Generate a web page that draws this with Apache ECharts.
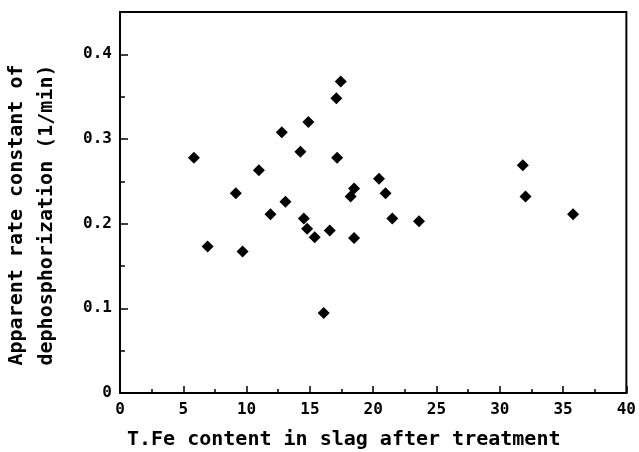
<!DOCTYPE html>
<html>
<head>
<meta charset="utf-8">
<script src="https://cdn.jsdelivr.net/npm/echarts@6/dist/echarts.min.js"></script>
<style>html,body{margin:0;padding:0;background:#fff}#c{width:639px;height:452px}</style>
</head>
<body>
<div id="c"></div>
<script>
var tfe = [5.84, 6.92, 9.15, 9.68, 10.97, 11.89, 12.78, 13.07, 14.25, 14.52, 14.78, 14.88, 15.38, 16.09, 16.57, 17.09, 17.15, 17.44, 18.22, 18.49, 18.49, 20.46, 20.98, 21.51, 23.62, 31.82, 32.03, 35.79];
var rate = [0.278, 0.173, 0.236, 0.167, 0.263, 0.211, 0.308, 0.226, 0.285, 0.206, 0.194, 0.320, 0.184, 0.0945, 0.192, 0.348, 0.278, 0.368, 0.232, 0.2415, 0.183, 0.253, 0.236, 0.206, 0.203, 0.269, 0.232, 0.211];
var xTitle = 'T.Fe content in slag after treatment';
var yTitle1 = 'Apparent rate constant of';
var yTitle2 = 'dephosphorization (1/min)';

var pts = tfe.map(function (v, i) { return [v, rate[i]]; });
var FONT = '"DejaVu Sans Mono", "Liberation Mono", monospace';
var chart = echarts.init(document.getElementById('c'), null, {renderer: 'canvas'});
chart.setOption({
  animation: false,
  backgroundColor: '#fff',
  grid: {left: 120, top: 12, right: 11, bottom: 59, show: true, borderColor: '#000', borderWidth: 2, backgroundColor: 'transparent'},
  xAxis: {
    type: 'value', min: 0, max: 40, interval: 5,
    axisLine: {show: true, onZero: false, lineStyle: {color: '#000', width: 2}},
    axisTick: {show: true, inside: true, length: 7, lineStyle: {color: '#000', width: 1.5}},
    minorTick: {show: true, splitNumber: 2, length: 4, lineStyle: {color: '#000', width: 1.5}},
    splitLine: {show: false},
    axisLabel: {color: '#000', fontFamily: FONT, fontWeight: 'bold', fontSize: 16, margin: 9}
  },
  yAxis: [{
    type: 'value', min: 0, max: 0.45, interval: 0.1,
    axisLine: {show: true, onZero: false, lineStyle: {color: '#000', width: 2}},
    axisTick: {show: true, inside: true, length: 8, lineStyle: {color: '#000', width: 1.5}},
    splitLine: {show: false},
    axisLabel: {color: '#000', fontFamily: FONT, fontWeight: 'bold', fontSize: 16, margin: 8, showMaxLabel: false,
      formatter: function (v) { return v === 0 ? '0' : v.toFixed(1); }}
  }, {
    type: 'value', min: 0, max: 0.45, interval: 0.05, position: 'left',
    axisLine: {show: false},
    axisTick: {show: true, inside: true, length: 5, lineStyle: {color: '#000', width: 1.5}},
    splitLine: {show: false},
    axisLabel: {show: false}
  }],
  graphic: [
    {type: 'text', x: 127, y: 440, style: {text: xTitle, font: 'bold 20px ' + FONT, fill: '#000', textAlign: 'left', textVerticalAlign: 'middle'}},
    {type: 'text', x: 17, y: 215, rotation: Math.PI / 2, style: {text: yTitle1, font: 'bold 20px ' + FONT, fill: '#000', textAlign: 'center', textVerticalAlign: 'middle'}},
    {type: 'text', x: 47, y: 215, rotation: Math.PI / 2, style: {text: yTitle2, font: 'bold 20px ' + FONT, fill: '#000', textAlign: 'center', textVerticalAlign: 'middle'}}
  ],
  series: [{
    type: 'scatter', data: pts, symbol: 'diamond', symbolSize: 12,
    itemStyle: {color: '#000', opacity: 1}
  }]
});
</script>
</body>
</html>
